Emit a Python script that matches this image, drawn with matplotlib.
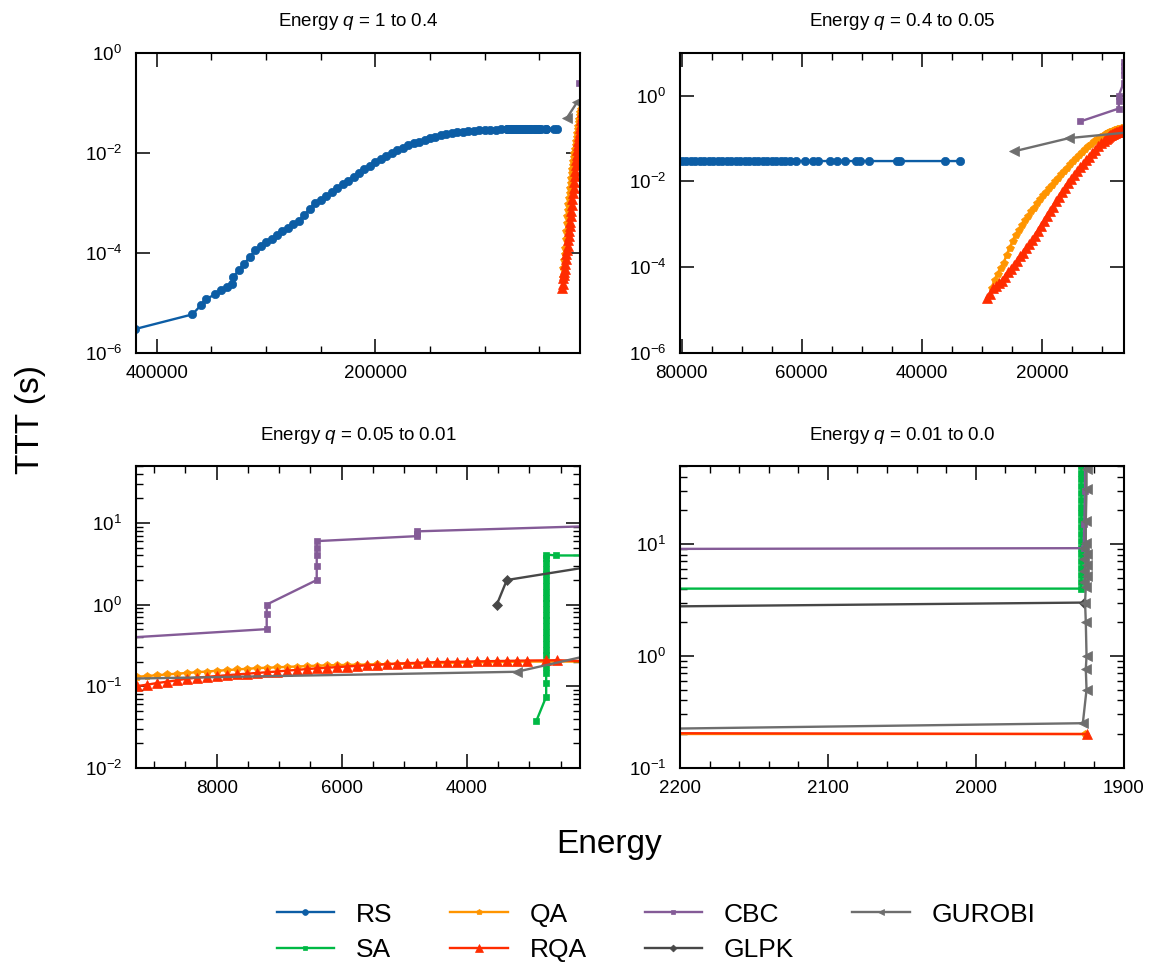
import numpy as np
import matplotlib
matplotlib.use("Agg")
import matplotlib.pyplot as plt
from matplotlib.ticker import FixedLocator, MultipleLocator, FuncFormatter, NullLocator, LogLocator, NullFormatter

plt.rcParams['font.family'] = ['Liberation Sans', 'DejaVu Sans']
plt.rcParams['mathtext.fontset'] = 'custom'
plt.rcParams['mathtext.rm'] = 'Liberation Sans'
plt.rcParams['mathtext.it'] = 'Liberation Sans:italic'
plt.rcParams['mathtext.bf'] = 'Liberation Sans:bold'

# ---------------- data ----------------
rs_energy = [420000, 367500, 359800, 355000, 346500, 341600, 336100, 331500,
             330000, 325000, 320000, 315000, 310000, 305000, 300000, 295000, 290000, 285000,
             280000, 275000, 270000, 265000, 260000, 255000, 250000, 245000, 240000, 235000,
             230000, 225000, 220000, 215000, 210000, 205000, 200000, 195000, 190000, 185000,
             180000, 175000, 170000, 165000, 160000, 155000, 150000, 145000, 140000, 135000,
             130000, 125000, 120000, 115000, 110000, 105000, 100000, 95000, 90000, 85000, 80000,
             79250, 78500, 77750, 77000, 76250, 75500, 74750, 74000, 73250, 72500, 71750, 71000,
             70250, 69500, 68750, 68000, 67250, 66500, 65750, 65000, 64250, 63500, 62750, 62000,
             60880, 59500, 58110, 57280, 55330, 54210, 52830, 50880, 50330, 48830, 44210, 43660,
             36160, 33660]
rs_ttt = [3.0e-6, 5.9e-6, 8.9e-6, 1.2e-5, 1.48e-5, 1.8e-5, 2.1e-5, 2.4e-5,
          3.3e-5, 4.5e-5, 6.0e-5, 8.3e-5, 1.12e-4, 1.38e-4, 1.62e-4, 1.9e-4, 2.24e-4, 2.7e-4,
          3.16e-4, 3.7e-4, 4.4e-4, 5.6e-4, 7.6e-4, 9.8e-4, 1.15e-3, 1.38e-3, 1.66e-3, 1.95e-3,
          2.34e-3, 2.75e-3, 3.3e-3, 3.9e-3, 4.7e-3, 5.5e-3, 6.5e-3, 7.6e-3, 8.7e-3, 1.0e-2,
          1.12e-2, 1.26e-2, 1.41e-2, 1.55e-2, 1.66e-2, 1.82e-2, 1.95e-2, 2.09e-2, 2.24e-2, 2.34e-2,
          2.45e-2, 2.57e-2, 2.63e-2, 2.69e-2, 2.75e-2, 2.82e-2, 2.85e-2, 2.88e-2, 2.92e-2, 2.95e-2, 2.96e-2,
          2.96e-2, 2.96e-2, 2.97e-2, 2.97e-2, 2.97e-2, 2.97e-2, 2.97e-2, 2.97e-2, 2.97e-2, 2.97e-2, 2.98e-2, 2.98e-2,
          2.98e-2, 2.98e-2, 2.98e-2, 2.98e-2, 2.98e-2, 2.98e-2, 2.98e-2, 2.98e-2, 2.98e-2, 2.98e-2, 2.98e-2, 2.98e-2,
          2.98e-2, 2.98e-2, 2.98e-2, 2.98e-2, 2.98e-2, 2.98e-2, 2.98e-2, 2.98e-2, 2.98e-2, 2.98e-2, 2.98e-2, 2.98e-2,
          2.98e-2, 2.98e-2]

sa_energy = [2891, 2731, 2731, 2731, 2731, 2731, 2730, 2730, 2730, 2730, 2730, 2729, 2729, 2729,
             2729, 2729, 2729, 2728, 2728, 2728, 2728, 2728, 2728, 2727, 2727, 2571, 1929,
             1928.5, 1928.5, 1928.5, 1928.5, 1928.5, 1928.5, 1928.5, 1928.5, 1928.5, 1928.5,
             1928.5, 1928.5, 1928.5, 1928.5, 1928.5, 1928.5, 1928.5, 1928.5, 1928.5]
sa_ttt = [0.037, 0.074, 0.11, 0.146, 0.17, 0.2, 0.24, 0.28, 0.33, 0.39, 0.46, 0.54, 0.64, 0.75,
          0.88, 1.04, 1.22, 1.44, 1.7, 2.0, 2.35, 2.75, 3.2, 3.7, 4.1, 4.0, 4.0,
          4.6, 5.3, 6.1, 7.0, 8.1, 9.3, 10.7, 12.3, 14.2, 16.3,
          18.8, 21.6, 24.9, 28.6, 32.9, 37.9, 43.6, 50.1, 57.6]

qa_energy = [28400, 27900, 27400, 26900, 26400, 25900, 25400, 24900, 24400, 23900, 23400, 22900,
             22400, 21900, 21400, 20900, 20400, 19900, 19400, 18900, 18400, 17900, 17400, 16900,
             16400, 15900, 15400, 14900, 14400, 13900, 13400, 12900, 12400, 11900, 11400, 10900,
             10400, 9900, 9440,
             9280, 9120, 8960, 8800, 8640, 8480, 8320, 8160, 8000, 7840, 7680, 7520, 7360, 7200,
             7040, 6880, 6720, 6560, 6400, 6240, 6080, 5920, 5760, 5600, 5440, 5280, 5120, 4960,
             4800, 4640, 4480, 4320, 4160, 4000, 3840, 3680, 3520, 3360, 3200, 3040, 1926]
qa_ttt = [3.3e-5, 5.0e-5, 7.1e-5, 9.5e-5, 1.26e-4, 1.9e-4, 2.8e-4, 4.0e-4, 5.5e-4, 7.2e-4, 9.5e-4, 1.23e-3,
          1.58e-3, 2.0e-3, 2.45e-3, 3.1e-3, 3.9e-3, 4.8e-3, 5.8e-3, 6.9e-3, 8.3e-3, 1.0e-2, 1.2e-2, 1.45e-2,
          1.74e-2, 2.1e-2, 2.5e-2, 2.95e-2, 3.5e-2, 4.1e-2, 4.8e-2, 5.6e-2, 6.6e-2, 7.6e-2, 8.7e-2, 9.8e-2,
          0.107, 0.117, 0.126,
          0.130, 0.133, 0.136, 0.139, 0.142, 0.145, 0.148, 0.151, 0.154, 0.157, 0.160, 0.163, 0.166, 0.168,
          0.170, 0.172, 0.174, 0.176, 0.178, 0.180, 0.181, 0.182, 0.183, 0.184, 0.185, 0.186, 0.187, 0.188,
          0.189, 0.190, 0.191, 0.192, 0.193, 0.194, 0.195, 0.196, 0.197, 0.198, 0.199, 0.200, 0.200]

rqa_energy = [29200, 28700, 28200, 27700, 27200, 26700, 26200, 25700, 25200, 24700, 24200, 23700,
              23200, 22700, 22200, 21700, 21200, 20700, 20200, 19700, 19200, 18700, 18200, 17700,
              17200, 16700, 16200, 15700, 15200, 14700, 14200, 13700, 13200, 12700, 12200, 11700,
              11200, 10700, 10200, 9700,
              9280, 9120, 8960, 8800, 8640, 8480, 8320, 8160, 8000, 7840, 7680, 7520, 7360, 7200,
              7040, 6880, 6720, 6560, 6400, 6240, 6080, 5920, 5760, 5600, 5440, 5280, 5120, 4960,
              4800, 4640, 4480, 4320, 4160, 4000, 3840, 3680, 3520, 3360, 3200, 3040, 2730, 2560, 1925]
rqa_ttt = [1.95e-5, 2.4e-5, 3.2e-5, 3.6e-5, 4.2e-5, 4.8e-5, 6.0e-5, 7.6e-5, 9.3e-5, 1.12e-4, 1.38e-4, 1.78e-4,
           2.2e-4, 2.75e-4, 3.4e-4, 4.2e-4, 5.4e-4, 6.9e-4, 9.1e-4, 1.17e-3, 1.55e-3, 2.0e-3, 2.57e-3, 3.4e-3,
           4.4e-3, 5.6e-3, 7.2e-3, 9.1e-3, 1.15e-2, 1.41e-2, 1.74e-2, 2.14e-2, 2.57e-2, 3.16e-2, 3.8e-2, 4.6e-2,
           5.5e-2, 6.6e-2, 7.8e-2, 8.9e-2,
           0.100, 0.104, 0.109, 0.113, 0.118, 0.123, 0.127, 0.130, 0.133, 0.136, 0.139, 0.142, 0.145, 0.148,
           0.151, 0.155, 0.158, 0.162, 0.165, 0.168, 0.171, 0.174, 0.177, 0.180, 0.183, 0.186, 0.189, 0.191,
           0.193, 0.195, 0.197, 0.198, 0.199, 0.200, 0.201, 0.202, 0.203, 0.204, 0.205, 0.206, 0.207, 0.208, 0.200]

cbc_energy = [13600, 7200, 7200, 7200, 6400, 6400, 6400, 6400, 6400, 4800, 4800, 4800, 1927, 1926.5, 1926, 1926]
cbc_ttt = [0.25, 0.50, 0.76, 1.0, 2.0, 3.0, 4.0, 5.0, 6.0, 6.9, 7.4, 7.9, 9.2, 15, 30, 70]

glpk_energy = [3520, 3360, 1927]
glpk_ttt = [1.0, 2.0, 3.0]

gurobi_energy = [24700, 15500, 3200, 1927.5, 1925, 1925.5, 1925, 1925.5, 1926, 1925.5, 1927, 1925,
                 1927, 1925, 1927, 1925, 1927, 1925.5, 1925.5, 1925, 1925, 1925]
gurobi_ttt = [0.050, 0.102, 0.150, 0.25, 0.50, 0.76, 1.0, 2.0, 3.0, 4.15, 4.6, 5.2,
              5.8, 6.5, 7.3, 8.2, 9.2, 10.2, 16, 31, 47, 80]

solver_names = ['RS', 'SA', 'QA', 'RQA', 'CBC', 'GLPK', 'GUROBI']
panel_titles = ['Energy $q$ = 1 to 0.4', 'Energy $q$ = 0.4 to 0.05',
                'Energy $q$ = 0.05 to 0.01', 'Energy $q$ = 0.01 to 0.0']
panel_xlims = [(419000, 12800), (80270, 6420), (9290, 2190), (2200, 1900)]
panel_ylims = [(1e-6, 1.0), (1e-6, 10.0), (1e-2, 50.0), (1e-1, 50.0)]
panel_xmajor = [200000, 20000, 2000, 100]
panel_xminor = [50000, 5000, 500, 20]

# ---------------- styles ----------------
series = [
    (rs_energy, rs_ttt, '#0C5DA5', 'o', 6.0),
    (sa_energy, sa_ttt, '#00B945', 's', 5.0),
    (qa_energy, qa_ttt, '#FF9500', 'p', 6.0),
    (rqa_energy, rqa_ttt, '#FF2C00', '^', 7.5),
    (cbc_energy, cbc_ttt, '#845B97', 's', 5.0),
    (glpk_energy, glpk_ttt, '#474747', 'D', 5.0),
    (gurobi_energy, gurobi_ttt, '#6e6e6e', '<', 6.5),
]

W, H = 1159, 967
fig = plt.figure(figsize=(W / 100, H / 100), dpi=100)
rects_px = [(136, 52.7, 580, 353), (680, 52.7, 1123.5, 353),
            (136, 466, 580, 767.7), (680, 466, 1123.5, 767.7)]

def yfmt(v, p):
    return r'$\mathdefault{10^{%d}}$' % int(round(np.log10(v)))

axes = []
for i, (x0, y0, x1, y1) in enumerate(rects_px):
    ax = fig.add_axes([x0 / W, 1 - y1 / H, (x1 - x0) / W, (y1 - y0) / H])
    lines = []
    for (ex, ey, col, mk, ms), name in zip(series, solver_names):
        ln, = ax.plot(ex, ey, color=col, marker=mk, markersize=ms, lw=1.7,
                      markeredgewidth=0.5, markeredgecolor=col, label=name)
        lines.append(ln)
    ax.set_yscale('log')
    ax.set_xlim(*panel_xlims[i])
    ax.set_ylim(*panel_ylims[i])
    ax.xaxis.set_major_locator(MultipleLocator(panel_xmajor[i]))
    ax.xaxis.set_minor_locator(MultipleLocator(panel_xminor[i]))
    ax.xaxis.set_major_formatter(FuncFormatter(lambda v, p: '%d' % round(v)))
    if i < 2:
        ax.yaxis.set_major_locator(FixedLocator([1e-6, 1e-4, 1e-2, 1e0]))
        ax.yaxis.set_minor_locator(NullLocator())
    else:
        ax.yaxis.set_major_locator(LogLocator(base=10, numticks=12))
        ax.yaxis.set_minor_locator(LogLocator(base=10, subs=np.arange(2, 10), numticks=12))
        ax.yaxis.set_minor_formatter(NullFormatter())
    ax.yaxis.set_major_formatter(FuncFormatter(yfmt))
    ax.tick_params(which='both', direction='in', top=True, right=True)
    ax.tick_params(which='major', length=10, width=1.1, labelsize=13.5)
    ax.tick_params(which='minor', length=5, width=1.0)
    ax.tick_params(axis='x', which='major', pad=9)
    ax.tick_params(axis='y', which='major', pad=10)
    for sp in ax.spines.values():
        sp.set_linewidth(1.5)
    ax.set_title(panel_titles[i], fontsize=13.5, pad=19)
    axes.append((ax, lines))

fig.text(30 / W, 1 - 420 / H, 'TTT (s)', rotation=90, fontsize=24, ha='center', va='center')
fig.text(609 / W, 1 - 845 / H, 'Energy', fontsize=24, ha='center', va='center')

handles = axes[0][1]
fig.legend(handles, solver_names, loc='center', bbox_to_anchor=(656 / W, 1 - 932.5 / H),
           ncol=4, frameon=False, fontsize=19, handlelength=2.17, handletextpad=0.83,
           columnspacing=2.2, labelspacing=0.45, borderaxespad=0, markerscale=0.7)

fig.savefig('out.png', dpi=100, facecolor='white')
